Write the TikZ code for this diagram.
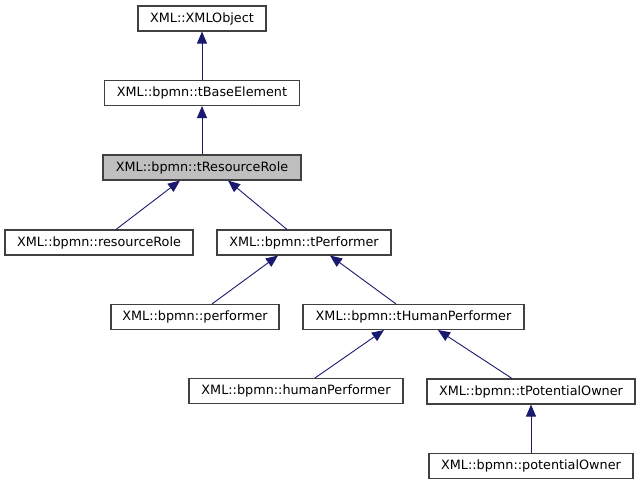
\documentclass[tikz,border=0pt]{standalone}
\usepackage{fontspec}
\setmainfont{DejaVu Sans}
\usetikzlibrary{arrows.meta}
\definecolor{edgecol}{HTML}{191970}
\definecolor{boxline}{HTML}{404040}
\tikzset{
  cls/.style={draw=boxline, line width=1.1pt, fill=white, minimum height=25pt, inner sep=0pt, font=\fontsize{12.8}{15}\selectfont},
  cur/.style={cls, fill=black!25},
  edge/.style={draw=edgecol, line width=0.9pt, {Triangle[width=10pt,length=12pt]}-}
}
\begin{document}
\begin{tikzpicture}[x=1pt,y=-1pt]
\useasboundingbox (0,0) rectangle (641,485);
\node[cls, minimum width=128pt] (xo) at (202,18.5) {XML::XMLObject};
\node[cls, minimum width=195pt] (be) at (202,93) {XML::bpmn::tBaseElement};
\node[cur, minimum width=198pt] (rr) at (202,167.5) {XML::bpmn::tResourceRole};
\node[cls, minimum width=188pt] (res) at (99,242.5) {XML::bpmn::resourceRole};
\node[cls, minimum width=174pt] (tp) at (304,242.5) {XML::bpmn::tPerformer};
\node[cls, minimum width=168pt] (pf) at (195,317) {XML::bpmn::performer};
\node[cls, minimum width=221pt] (thp) at (413.5,317) {XML::bpmn::tHumanPerformer};
\node[cls, minimum width=214pt] (hp) at (296,391) {XML::bpmn::humanPerformer};
\node[cls, minimum width=208pt] (tpo) at (531,391.5) {XML::bpmn::tPotentialOwner};
\node[cls, minimum width=204pt] (po) at (531,466) {XML::bpmn::potentialOwner};

\draw[edge] (xo.south) -- (be.north);
\draw[edge] (be.south) -- (rr.north);
\draw[edge] ([xshift=-22pt]rr.south) -- ([xshift=17pt]res.north);
\draw[edge] ([xshift=26pt]rr.south) -- ([xshift=-17pt]tp.north);
\draw[edge] ([xshift=-26pt]tp.south) -- ([xshift=17pt]pf.north);
\draw[edge] ([xshift=26pt]tp.south) -- ([xshift=-17.5pt]thp.north);
\draw[edge] ([xshift=-29.5pt]thp.south) -- ([xshift=19pt]hp.north);
\draw[edge] ([xshift=24.5pt]thp.south) -- ([xshift=-19pt]tpo.north);
\draw[edge] (tpo.south) -- (po.north);
\end{tikzpicture}
\end{document}
